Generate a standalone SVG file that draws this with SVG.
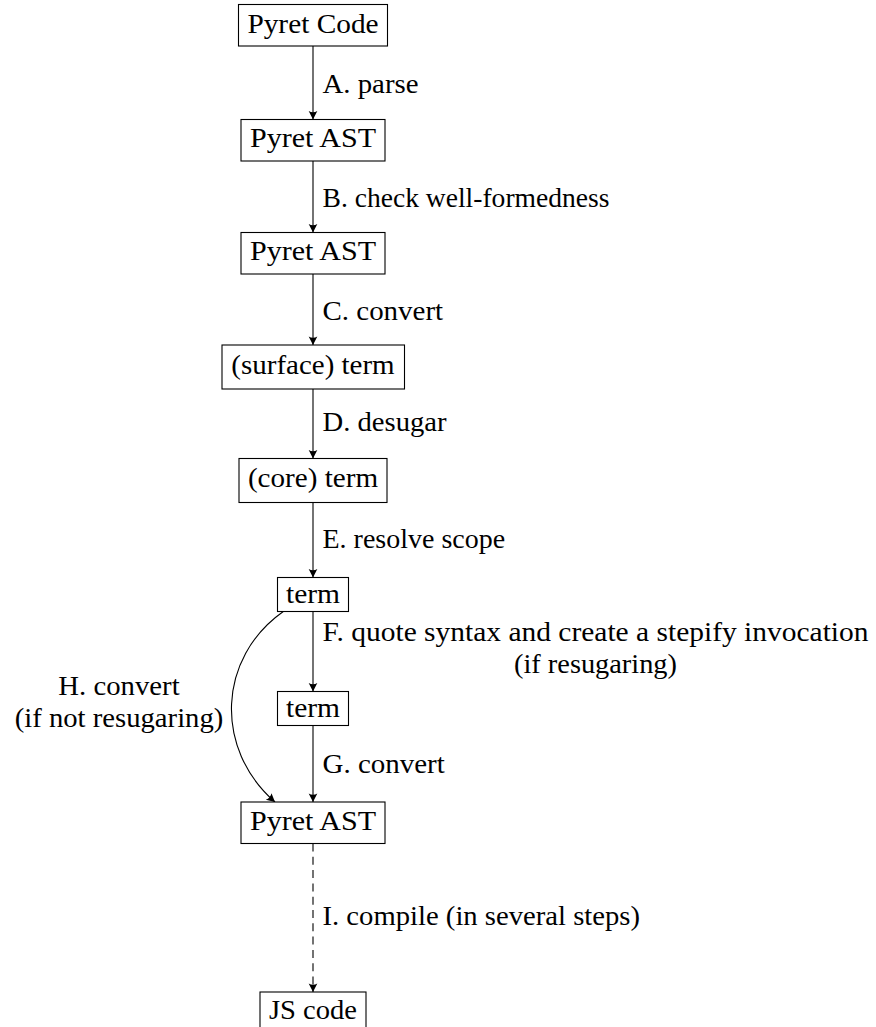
<svg xmlns="http://www.w3.org/2000/svg" width="876" height="1027" viewBox="0 0 876 1027">
<defs>
<style>
.t{font-family:"Liberation Serif",serif;font-size:27.5px;fill:#000}
.mid{text-anchor:middle}
.box{fill:#fff;stroke:#000;stroke-width:1.1}
.edge{fill:none;stroke:#000;stroke-width:1.1}
.dash{stroke-dasharray:8 5.3}
</style>
<marker id="ah" markerUnits="userSpaceOnUse" markerWidth="12" markerHeight="12" viewBox="-8 -5 10 10" refX="0" refY="0" orient="auto">
<path d="M0,0 L-7,-3.6 Q-5,0 -7,3.6 Z" fill="#000"/>
</marker>
</defs>
<rect width="876" height="1027" fill="#fff"/>
<g id="connectors">
<line class="edge" x1="313" y1="46" x2="313" y2="119.5" marker-end="url(#ah)"/>
<line class="edge" x1="313" y1="161" x2="313" y2="232.5" marker-end="url(#ah)"/>
<line class="edge" x1="313" y1="274" x2="313" y2="345" marker-end="url(#ah)"/>
<line class="edge" x1="313" y1="389" x2="313" y2="458.5" marker-end="url(#ah)"/>
<line class="edge" x1="313" y1="502.5" x2="313" y2="577.5" marker-end="url(#ah)"/>
<line class="edge" x1="313" y1="611.5" x2="313" y2="691.5" marker-end="url(#ah)"/>
<line class="edge" x1="313" y1="725.5" x2="313" y2="802" marker-end="url(#ah)"/>
<path class="edge" d="M283.3,611.5 C217.7,657.6 213.7,748.6 275,802" marker-end="url(#ah)"/>
<line class="edge dash" x1="313" y1="843.5" x2="313" y2="992" marker-end="url(#ah)"/>
<text class="t" x="322.5" y="93" textLength="96" lengthAdjust="spacingAndGlyphs">A. parse</text>
<text class="t" x="322.5" y="207" textLength="287" lengthAdjust="spacingAndGlyphs">B. check well-formedness</text>
<text class="t" x="322.5" y="319.5" textLength="120.6" lengthAdjust="spacingAndGlyphs">C. convert</text>
<text class="t" x="322.5" y="431" textLength="124" lengthAdjust="spacingAndGlyphs">D. desugar</text>
<text class="t" x="322.5" y="547.5" textLength="182.6" lengthAdjust="spacingAndGlyphs">E. resolve scope</text>
<text class="t" x="322.5" y="641" textLength="546" lengthAdjust="spacingAndGlyphs">F. quote syntax and create a stepify invocation</text>
<text class="t mid" x="595.5" y="672.6" textLength="163" lengthAdjust="spacingAndGlyphs">(if resugaring)</text>
<text class="t" x="322.5" y="773" textLength="122.3" lengthAdjust="spacingAndGlyphs">G. convert</text>
<text class="t mid" x="119" y="695" textLength="121.3" lengthAdjust="spacingAndGlyphs">H. convert</text>
<text class="t mid" x="119" y="726.6" textLength="208.7" lengthAdjust="spacingAndGlyphs">(if not resugaring)</text>
<text class="t" x="322.5" y="925" textLength="317.5" lengthAdjust="spacingAndGlyphs">I. compile (in several steps)</text>
</g>
<g id="n1"><rect class="box" x="238.5" y="4.5" width="149" height="41.5"/><text class="t mid" x="313" y="32.5" textLength="131.2" lengthAdjust="spacingAndGlyphs">Pyret Code</text></g>
<g id="n2"><rect class="box" x="241" y="119.5" width="144" height="41.5"/><text class="t mid" x="313" y="147" textLength="126.1" lengthAdjust="spacingAndGlyphs">Pyret AST</text></g>
<g id="n3"><rect class="box" x="241" y="232.5" width="144" height="41.5"/><text class="t mid" x="313" y="260" textLength="126.1" lengthAdjust="spacingAndGlyphs">Pyret AST</text></g>
<g id="n4"><rect class="box" x="222" y="345" width="182.5" height="44"/><text class="t mid" x="313" y="373.6" textLength="163.3" lengthAdjust="spacingAndGlyphs">(surface) term</text></g>
<g id="n5"><rect class="box" x="239" y="458.5" width="148" height="44"/><text class="t mid" x="313" y="487.1" textLength="130.2" lengthAdjust="spacingAndGlyphs">(core) term</text></g>
<g id="n6"><rect class="box" x="277.5" y="577.5" width="71" height="34"/><text class="t mid" x="313" y="602.6" textLength="54.1" lengthAdjust="spacingAndGlyphs">term</text></g>
<g id="n7"><rect class="box" x="277.5" y="691.5" width="71" height="34"/><text class="t mid" x="313" y="716.6" textLength="54.1" lengthAdjust="spacingAndGlyphs">term</text></g>
<g id="n8"><rect class="box" x="241" y="802" width="144" height="41.5"/><text class="t mid" x="313" y="829.5" textLength="126.1" lengthAdjust="spacingAndGlyphs">Pyret AST</text></g>
<g id="n9"><rect class="box" x="260" y="992" width="106" height="36"/><text class="t mid" x="313" y="1019" textLength="88" lengthAdjust="spacingAndGlyphs">JS code</text></g>
</svg>
